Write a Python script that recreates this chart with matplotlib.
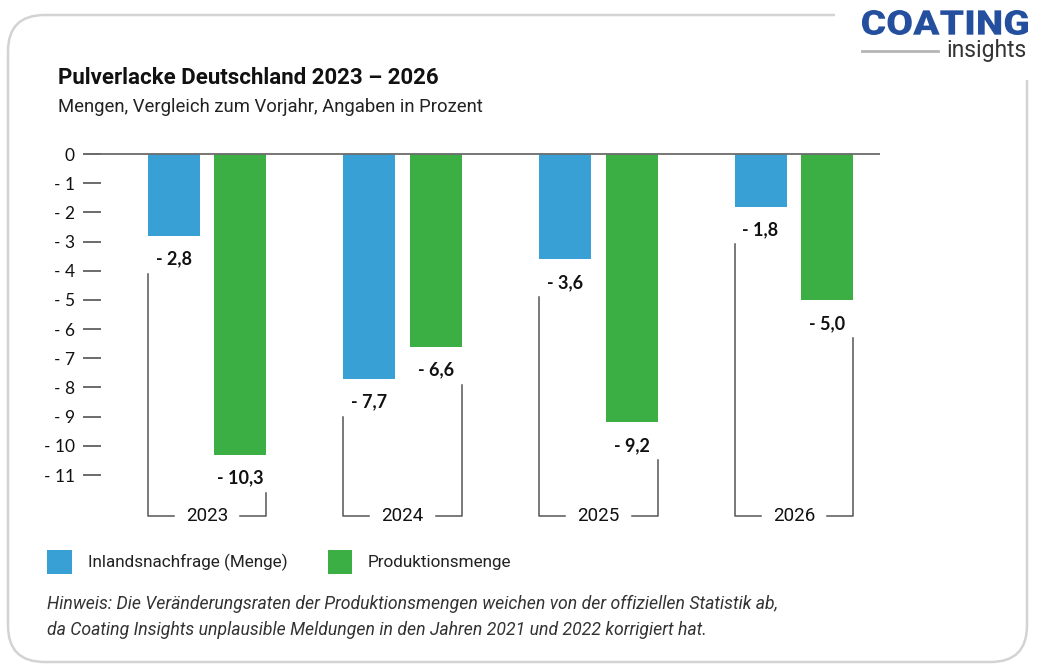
import numpy as np
import matplotlib
matplotlib.use("Agg")
import matplotlib.pyplot as plt
from matplotlib.patches import FancyBboxPatch, Rectangle, PathPatch
from matplotlib.textpath import TextPath
from matplotlib.font_manager import FontProperties
from matplotlib.transforms import Affine2D

# ---------------- DATA ---------------- #
years = ["2023", "2024", "2025", "2026"]
inland = [-2.8, -7.7, -3.6, -1.8]        # Inlandsnachfrage (Menge)
produktion = [-10.3, -6.6, -9.2, -5.0]   # Produktionsmenge
yticks = [0, -1, -2, -3, -4, -5, -6, -7, -8, -9, -10, -11]
legend_labels = ["Inlandsnachfrage (Menge)", "Produktionsmenge"]

title = "Pulverlacke Deutschland 2023 \u2013 2026"
subtitle = "Mengen, Vergleich zum Vorjahr, Angaben in Prozent"
note = ["Hinweis: Die Veränderungsraten der Produktionsmengen weichen von der offiziellen Statistik ab,",
        "da Coating Insights unplausible Meldungen in den Jahren 2021 und 2022 korrigiert hat."]

# ---------------- STYLE ---------------- #
BLUE = "#38a0d4"
GREEN = "#3caf44"
LINE = "#555555"
W, H = 1042, 668

def fx(px):
    return px / W

def fy(py):
    return 1 - py / H

fig = plt.figure(figsize=(W / 100, H / 100), dpi=100)

# rounded frame
frame = FancyBboxPatch((fx(8), fy(662)), fx(1027) - fx(8), fy(15) - fy(662),
                       boxstyle="round,pad=0,rounding_size=0.035",
                       transform=fig.transFigure, fc="white", ec="#d3d3d3", lw=1.8,
                       mutation_aspect=W / H, zorder=-2)
fig.patches.append(frame)
# gap in the frame for the logo
fig.patches.append(Rectangle((fx(835), fy(80)), 1 - fx(835), 1 - fy(80),
                             transform=fig.transFigure, fc="white", ec="none", zorder=-1))

# logo: wide bold word, stretched to the box it fills in the reference
tp = TextPath((0, 0), "COATING", size=1, prop=FontProperties(family="Roboto", weight="black"))
ext = tp.get_extents()
sx = (1028 - 862) / ext.width / W
sy = (35 - 10) / ext.height / H
logo_tr = Affine2D().translate(-ext.x0, -ext.y0).scale(sx, sy).translate(fx(862), fy(35))
fig.patches.append(PathPatch(tp, transform=logo_tr + fig.transFigure,
                             fc="#234f9e", ec="none", zorder=3))
fig.text(fx(1027), fy(50), "insights", ha="right", va="center", fontsize=16.5,
         family="Roboto", color="#333333", zorder=3)
fig.add_artist(plt.Line2D([fx(862), fx(938)], [fy(51), fy(51)], color="#b5b5b5",
                          lw=2, transform=fig.transFigure, zorder=3))

# titles
fig.text(fx(58), fy(78), title, ha="left", va="center", fontsize=16,
         fontweight="bold", family="Roboto", color="#111111")
fig.text(fx(58), fy(107), subtitle, ha="left", va="center", fontsize=13.3,
         family="Roboto", color="#222222")

# ---------------- CHART ---------------- #
# axes placed so zero line sits at y=154px and -11 at y=475px
px_per_unit = (475 - 154) / 11
ax_top, ax_bot = 140, 540
ax_left, ax_right = 83, 880
ax = fig.add_axes([fx(ax_left), fy(ax_bot), fx(ax_right) - fx(ax_left), fy(ax_top) - fy(ax_bot)])
ax.set_zorder(5)
ax.set_ylim(-(ax_bot - 154) / px_per_unit, (154 - ax_top) / px_per_unit)
spacing = (794 - 207) / 3
ax.set_xlim((ax_left - 207) / spacing, (ax_right - 207) / spacing)
ax.patch.set_alpha(0)

x = np.arange(len(years))
bw = 0.266
off = 0.171
ax.bar(x - off, inland, width=bw, color=BLUE, zorder=2)
ax.bar(x + off, produktion, width=bw, color=GREEN, zorder=2)
ax.axhline(0, color="#6b6b6b", lw=1.3, zorder=3)

for s in ax.spines.values():
    s.set_visible(False)
ax.set_xticks([])
ax.set_yticks(yticks)
ax.set_yticklabels(["0" if v == 0 else f"- {abs(v)}" for v in yticks],
                   family="Lato", fontsize=12.5, color="#111111")
ax.tick_params(axis="y", direction="in", length=13, width=1.1, color="#444444", pad=6)

def fmt(v):
    return "- " + f"{abs(v):.1f}".replace(".", ",")

bracket_y = -(516 - 154) / px_per_unit
gap = 0.17
for i, yr in enumerate(years):
    xl = i - off - bw / 2
    xr = i + off + bw / 2
    ax.text(i - off, inland[i] - 0.8, fmt(inland[i]), ha="center", va="center",
            family="Lato", fontweight="bold", fontsize=13, color="#111111")
    ax.text(i + off, produktion[i] - 0.8, fmt(produktion[i]), ha="center", va="center",
            family="Lato", fontweight="bold", fontsize=13, color="#111111")
    # bracket under each year
    ax.plot([xl, xl, i - gap], [inland[i] - 1.3, bracket_y, bracket_y],
            color=LINE, lw=1.1, clip_on=False)
    ax.plot([i + gap, xr, xr], [bracket_y, bracket_y, produktion[i] - 1.3],
            color=LINE, lw=1.1, clip_on=False)
    ax.text(i, bracket_y, yr, ha="center", va="center", family="Roboto",
            fontsize=13.5, color="#111111")

# ---------------- LEGEND ---------------- #
for (x0, x1, col, lx, lab) in [(47, 72, BLUE, 88, legend_labels[0]),
                               (328, 352, GREEN, 368, legend_labels[1])]:
    fig.patches.append(Rectangle((fx(x0), fy(574)), fx(x1) - fx(x0), fy(550) - fy(574),
                                 transform=fig.transFigure, fc=col, ec="none"))
    fig.text(fx(lx), fy(562), lab, ha="left", va="center", fontsize=12.3,
             family="Roboto", color="#222222")

# footnote
fig.text(fx(47), fy(604), note[0], ha="left", va="center", fontsize=12.7,
         family="Roboto", style="italic", color="#333333")
fig.text(fx(47), fy(630), note[1], ha="left", va="center", fontsize=12.7,
         family="Roboto", style="italic", color="#333333")

fig.savefig("out.png", dpi=100)
